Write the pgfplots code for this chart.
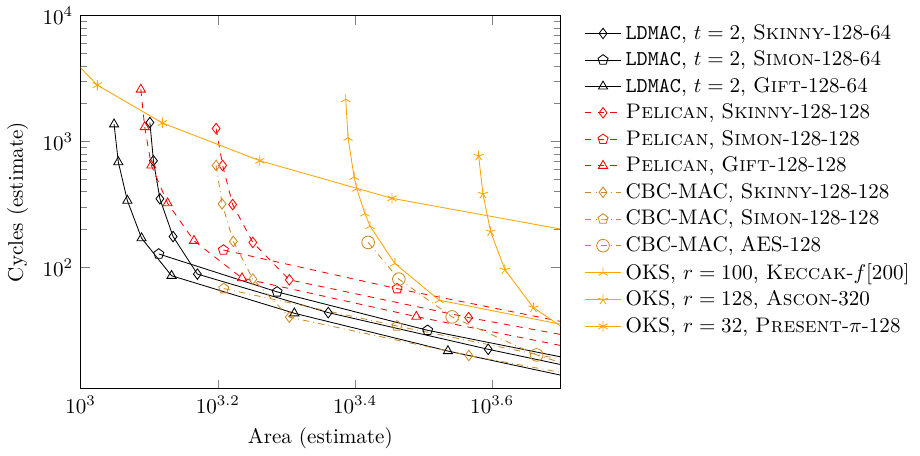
\documentclass[border=0pt]{standalone}
\usepackage{pgfplots}
\pgfplotsset{compat=1.18}
\definecolor{oks}{RGB}{255,165,0}
\definecolor{cbc}{RGB}{204,136,34}
\begin{document}
\begin{tikzpicture}
\begin{loglogaxis}[
  scale only axis, width=227.5pt, height=177pt,
  xmin=1000, xmax=5000, ymin=10.9, ymax=10000,
  xtick={1000,1584.893,2511.886,3981.072},
  ytick={100,1000,10000},
  xlabel={Area (estimate)}, ylabel={Cycles (estimate)},
  legend style={at={(1.037,1)}, anchor=north west, draw=none},
  legend cell align=left,
  every axis plot/.append style={mark size=2.5pt},
]
\addplot[black, mark=diamond, mark options={solid}] coordinates {(1262,1415) (1277,704) (1305,351) (1364,176) (1480,88.6) (2296,43.8) (3928,22.4) (7192,11.2)};
\addlegendentry{\texttt{LDMAC}, $t=2$, \textsc{Skinny}-128-64}
\addplot[black, mark=pentagon, mark options={solid}] coordinates {(1300,128) (1934,64) (3205,31.7) (5747,16.8)};
\addlegendentry{\texttt{LDMAC}, $t=2$, \textsc{Simon}-128-64}
\addplot[black, mark=triangle, mark options={solid}] coordinates {(1119,1371) (1135,687) (1170,340) (1227,171) (1357,86) (2049,43.3) (3431,21.7) (6195,10.9)};
\addlegendentry{\texttt{LDMAC}, $t=2$, \textsc{Gift}-128-64}
\addplot[red, dashed, mark=diamond, mark options={solid}] coordinates {(1576,1267) (1611,646) (1666,316) (1783,158) (2015,79.8) (3678,40) (7356,20)};
\addlegendentry{\textsc{Pelican}, \textsc{Skinny}-128-128}
\addplot[red, dashed, mark=pentagon, mark options={solid}] coordinates {(1615,137.6) (2893,67.9) (5449,34)};
\addlegendentry{\textsc{Pelican}, \textsc{Simon}-128-128}
\addplot[red, dashed, mark=triangle, mark options={solid}] coordinates {(1224,2591) (1240,1305) (1268,646) (1339,324) (1463,163) (1719,82.3) (3086,40.7) (5820,20.4)};
\addlegendentry{\textsc{Pelican}, \textsc{Gift}-128-128}
\addplot[cbc, dashdotted, mark=diamond, mark options={solid}] coordinates {(1576,646) (1608,320) (1670,161) (1783,80.8) (2015,40.3) (3680,20) (7360,10)};
\addlegendentry{CBC-MAC, \textsc{Skinny}-128-128}
\addplot[cbc, dashdotted, mark=pentagon, mark options={solid}] coordinates {(1617,68) (2892,34.3) (5450,17)};
\addlegendentry{CBC-MAC, \textsc{Simon}-128-128}
\addplot[cbc, dashdotted, mark=o, mark options={solid, mark size=3pt}] coordinates {(2625,158) (2910,80.8) (3480,40.5) (4622,20.2) (6906,10.1)};
\addlegendentry{CBC-MAC, AES-128}
\addplot[oks, mark=Mercedes star, mark options={solid}] coordinates {(2435,2169) (2454,1070) (2504,523) (2526,422) (2597,268) (2642,213) (2871,107.6) (3333,55) (6666,26)};
\addlegendentry{OKS, $r=100$, \textsc{Keccak}-$f[200]$}
\addplot[oks, mark=star, mark options={solid}] coordinates {(3804,769) (3859,384) (3960,192.6) (4154,95.9) (4571,48) (5400,26)};
\addlegendentry{OKS, $r=128$, \textsc{Ascon}-320}
\addplot[oks, mark=asterisk, mark options={solid}] coordinates {(935,5610) (1058,2805) (1316,1404) (1825,704) (2844,354) (5720,177)};
\addlegendentry{OKS, $r=32$, \textsc{Present}-$\pi$-128}
\end{loglogaxis}
\end{tikzpicture}
\end{document}
